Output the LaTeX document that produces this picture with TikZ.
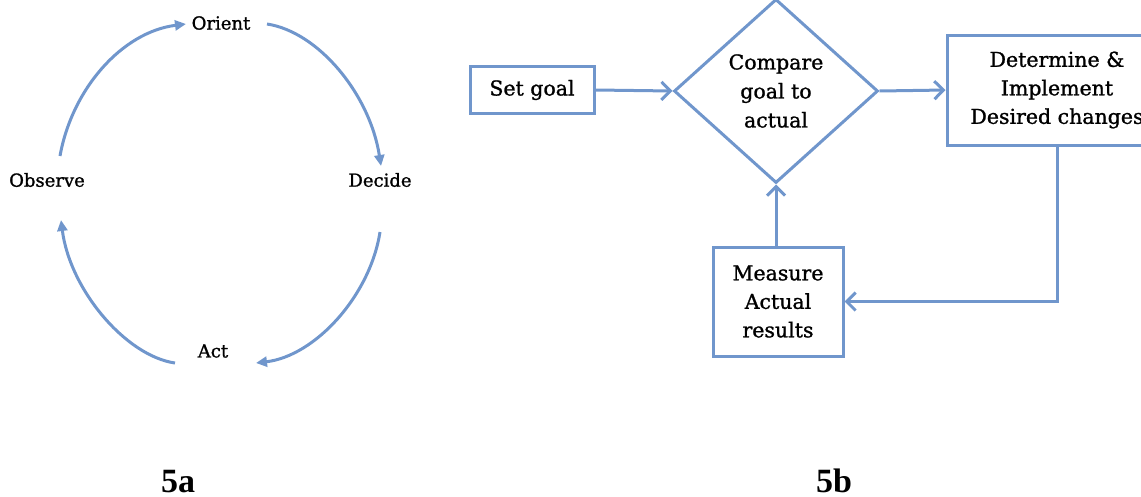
\documentclass[tikz,border=0pt]{standalone}
\usepackage{fontspec}
\setmainfont{DejaVu Serif}[FakeBold=1.2]
\newfontfamily\capfont{Liberation Serif}
\usetikzlibrary{arrows.meta,shapes.geometric}
\definecolor{lblue}{RGB}{112,150,204}
\tikzset{
  lbl/.style={inner sep=1pt, font=\fontsize{18}{20}\selectfont},
  cyc/.style={draw=lblue, line width=3pt, -{Triangle[length=11pt,width=10pt]}},
  fbox/.style={draw=lblue, line width=3pt, align=center, inner sep=0pt,
    font=\fontsize{20.5}{28.5}\selectfont},
  flowarr/.style={draw=lblue, line width=3pt, -{Straight Barb[length=9pt,width=18pt]}},
  caplbl/.style={anchor=base, inner sep=0pt, font=\capfont\bfseries\fontsize{34}{36}\selectfont}
}
\begin{document}
\begin{tikzpicture}[x=1pt,y=-1pt]
\path[use as bounding box] (0,0) rectangle (1141,496);

% 5a: OODA cycle
\node[lbl] (orient)  at (221,23)  {Orient};
\node[lbl] (decide)  at (380,180) {Decide};
\node[lbl] (observe) at (47,180)  {Observe};
\node[lbl] (act)     at (213,351) {Act};

\coordinate (a1s) at (60,156);  \coordinate (a1e) at (186,24);
\coordinate (a2s) at (267,24);  \coordinate (a2e) at (381,166);
\coordinate (a3s) at (380,232); \coordinate (a3e) at (256,363);
\coordinate (a4s) at (175,363); \coordinate (a4e) at (61,220);

\draw[cyc] (a1s) .. controls (72,89) and (122,32) .. (a1e);
\draw[cyc] (a2s) .. controls (319,32) and (370,95) .. (a2e);
\draw[cyc] (a3s) .. controls (370,296) and (315,356) .. (a3e);
\draw[cyc] (a4s) .. controls (126,356) and (70,290) .. (a4e);

% 5b: control loop
\node[fbox, minimum width=124pt, minimum height=47pt] (goal) at (532,90) {Set goal};
\node[draw=lblue, line width=3pt, shape=diamond, inner sep=0pt, aspect=1.1,
      minimum width=204pt, minimum height=184pt, align=center,
      font=\fontsize{20.5}{29}\selectfont] (cmp) at (776,91) {Compare\\goal to\\actual};
\node[fbox, minimum width=220pt, minimum height=110pt] (det) at (1057,90)
  {Determine \&\\Implement\\Desired changes};
\node[fbox, minimum width=130pt, minimum height=109pt] (meas) at (778,301.5)
  {Measure\\Actual\\results};

\draw[flowarr] (goal.east) -- (cmp.west);
\draw[flowarr] (cmp.east) -- (det.west);
\draw[flowarr] (det.south) |- (meas.east);
\draw[flowarr] (meas.north -| cmp.south) -- (cmp.south);

\node[caplbl] (capa) at (178,492) {5a};
\node[caplbl] (capb) at (834,492) {5b};
\end{tikzpicture}
\end{document}
